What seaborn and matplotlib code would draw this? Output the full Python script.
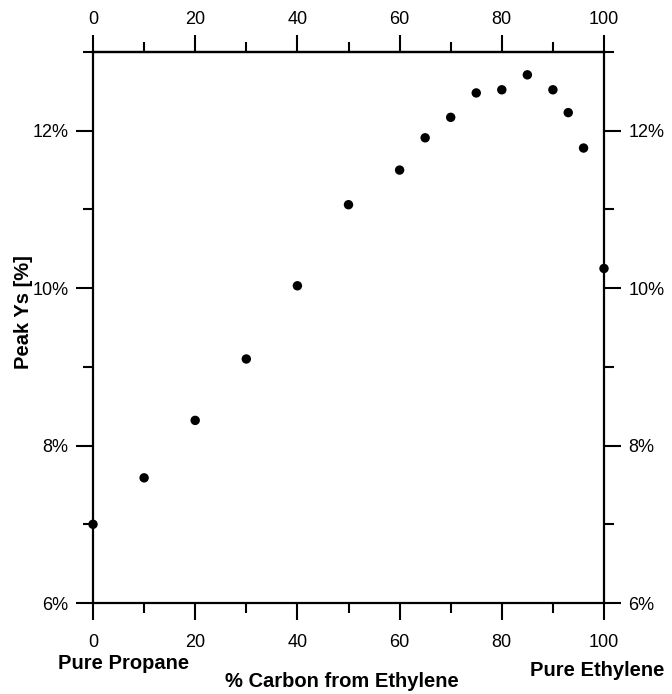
import matplotlib
matplotlib.use("Agg")
import matplotlib.pyplot as plt
import seaborn as sns
import pandas as pd
from matplotlib.ticker import MultipleLocator, FuncFormatter

# Share of carbon supplied by ethylene in the propane/ethylene feed (%)
ethylene_carbon_pct = [0, 10, 20, 30, 40, 50, 60, 65, 70, 75, 80, 85, 90, 93, 96, 100]
# Peak soot yield at each blend (%)
peak_ys_pct = [7.00, 7.59, 8.32, 9.10, 10.03, 11.06, 11.50, 11.91, 12.17,
               12.48, 12.52, 12.71, 12.52, 12.23, 11.78, 10.25]

x_ticks = [0, 20, 40, 60, 80, 100]
y_ticks = [6, 8, 10, 12]

df = pd.DataFrame({"carbon": ethylene_carbon_pct, "ys": peak_ys_pct})

sns.set_style("ticks")
plt.rcParams["font.family"] = ["Liberation Sans", "DejaVu Sans"]
plt.rcParams["text.color"] = "black"
plt.rcParams["axes.labelcolor"] = "black"

W, H = 672, 694
fig = plt.figure(figsize=(W / 100, H / 100), dpi=100)
left, right, top, bottom = 93, 604, 52, 603
ax = fig.add_axes([left / W, 1 - bottom / H, (right - left) / W, (bottom - top) / H])

sns.scatterplot(data=df, x="carbon", y="ys", ax=ax, color="black", s=46,
                edgecolor="none", linewidth=0, clip_on=False, zorder=5)

ax.set_xlim(0, 100)
ax.set_ylim(6, 13)
ax.set_xticks(x_ticks)
ax.set_yticks(y_ticks)
ax.xaxis.set_minor_locator(MultipleLocator(10))
ax.yaxis.set_minor_locator(MultipleLocator(1))
ax.yaxis.set_major_formatter(FuncFormatter(lambda v, _: f"{v:.0f}%"))

for s in ax.spines.values():
    s.set_visible(True)
    s.set_linewidth(1.6)
    s.set_color("black")

tick_style = dict(direction="out", width=1.5, color="black",
                  labelcolor="black", labelsize=13)
ax.tick_params(which="both", right=True, labelright=True, top=False, **tick_style)
ax.tick_params(which="major", length=12.5)
ax.tick_params(which="minor", length=7)
ax.tick_params(axis="x", which="major", pad=10)
ax.tick_params(axis="y", which="major", pad=5)

# Duplicate percentage scale along the top edge
top_ax = ax.secondary_xaxis("top")
top_ax.set_xticks(x_ticks)
top_ax.xaxis.set_minor_locator(MultipleLocator(10))
top_ax.tick_params(which="both", **tick_style)
top_ax.tick_params(which="major", length=12.5, pad=5)
top_ax.tick_params(which="minor", length=7)
top_ax.spines["top"].set_linewidth(1.6)
top_ax.spines["top"].set_color("black")

ax.set_xlabel("% Carbon from Ethylene", fontsize=14.5, fontweight="bold", color="black")
ax.xaxis.set_label_coords((342 - left) / (right - left), (bottom - 672) / (bottom - top))
ax.set_ylabel("Peak Ys [%]", fontsize=14.5, fontweight="bold", color="black")
ax.yaxis.set_label_coords((33 - left) / (right - left), (bottom - 312) / (bottom - top))

ax.annotate("Pure Propane", xy=((124 - left) / (right - left), (bottom - 654) / (bottom - top)),
            xycoords="axes fraction", ha="center", va="top", color="black",
            fontsize=14.5, fontweight="bold")
ax.annotate("Pure Ethylene", xy=((597 - left) / (right - left), (bottom - 661) / (bottom - top)),
            xycoords="axes fraction", ha="center", va="top", color="black",
            fontsize=14.5, fontweight="bold", annotation_clip=False)

fig.savefig("out.png", dpi=100)
